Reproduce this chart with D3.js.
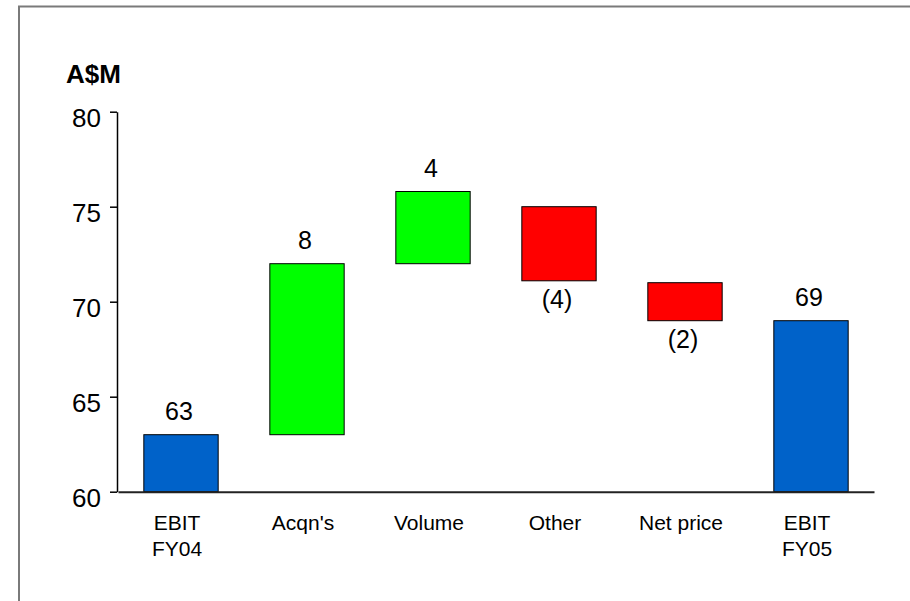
<!DOCTYPE html>
<html>
<head>
<meta charset="utf-8">
<script src="https://cdn.jsdelivr.net/npm/d3@7"></script>
<style>
  html, body { margin: 0; padding: 0; background: #fff; }
  svg { display: block; font-family: Arial, "Liberation Sans", sans-serif; }
</style>
</head>
<body>
<svg id="chart" width="910" height="601"></svg>
<script>
// ---- data ----
const categories = [["EBIT", "FY04"], ["Acqn's"], ["Volume"], ["Other"], ["Net price"], ["EBIT", "FY05"]];
const barLow  = [60, 63, 72, 71.1, 69, 60];
const barHigh = [63, 72, 75.8, 75, 71, 69];
const barLabels = ["63", "8", "4", "(4)", "(2)", "69"];
const barKinds = ["total", "up", "up", "down", "down", "total"];
const yTicks = [60, 65, 70, 75, 80];
const unitLabel = "A$M";

// ---- layout ----
const svg = d3.select("#chart");
const colors = { total: "#0062C9", up: "#00FF00", down: "#FF0000" };

// frame
svg.append("path")
  .attr("d", "M19,601 V6.5 H910")
  .attr("fill", "none").attr("stroke", "#7a7a7a").attr("stroke-width", 2);

const x = d3.scaleBand()
  .domain(d3.range(categories.length))
  .range([118, 874])
  .paddingInner(0.41)
  .paddingOuter(0.205);

const y = d3.scaleLinear().domain([60, 80]).range([491.7, 111.7]);

// bars
svg.append("g").selectAll("rect")
  .data(d3.range(categories.length))
  .join("rect")
  .attr("x", i => x(i))
  .attr("width", x.bandwidth())
  .attr("y", i => y(barHigh[i]))
  .attr("height", i => y(barLow[i]) - y(barHigh[i]))
  .attr("fill", i => colors[barKinds[i]])
  .attr("stroke", "#000")
  .attr("stroke-width", 1);

// value labels
svg.append("g").selectAll("text")
  .data(d3.range(categories.length))
  .join("text")
  .attr("x", i => x(i) + x.bandwidth() / 2 - 2)
  .attr("y", i => barKinds[i] === "down" ? y(barLow[i]) + 27 : y(barHigh[i]) - 15)
  .attr("text-anchor", "middle")
  .attr("font-size", 25)
  .attr("fill", "#000")
  .text(i => barLabels[i]);

// y axis
const yAxis = svg.append("g")
  .attr("transform", "translate(117,0)")
  .call(d3.axisLeft(y).tickValues(yTicks).tickSize(7).tickSizeOuter(0).tickPadding(9));
yAxis.select(".domain").attr("stroke", "#000").attr("stroke-width", 1.5);
yAxis.selectAll(".tick line").attr("stroke", "#000").attr("stroke-width", 1.5);
yAxis.selectAll(".tick text")
  .attr("font-size", 26)
  .attr("font-family", "Arial, 'Liberation Sans', sans-serif")
  .attr("fill", "#000")
  .attr("dy", "0.55em")
  .attr("y", 0);

// x axis
const xAxis = svg.append("g")
  .attr("transform", `translate(0,${y(60)})`)
  .call(d3.axisBottom(x).tickSize(0).tickSizeOuter(0).tickFormat(""));
xAxis.select(".domain").attr("stroke", "#222").attr("stroke-width", 2);
xAxis.selectAll(".tick").remove();

// category labels
const cat = svg.append("g").selectAll("text")
  .data(d3.range(categories.length))
  .join("text")
  .attr("text-anchor", "middle")
  .attr("font-size", 21)
  .attr("fill", "#000")
  .attr("transform", i => `translate(${x(i) + x.bandwidth() / 2 - 4},${y(60) + 38})`);
cat.selectAll("tspan")
  .data(i => categories[i])
  .join("tspan")
  .attr("x", 0)
  .attr("dy", (d, j) => j === 0 ? 0 : 26.5)
  .text(d => d);

// unit label
svg.append("text")
  .attr("x", 66)
  .attr("y", 83)
  .attr("font-size", 26)
  .attr("font-weight", "bold")
  .attr("fill", "#000")
  .text(unitLabel);
</script>
</body>
</html>
